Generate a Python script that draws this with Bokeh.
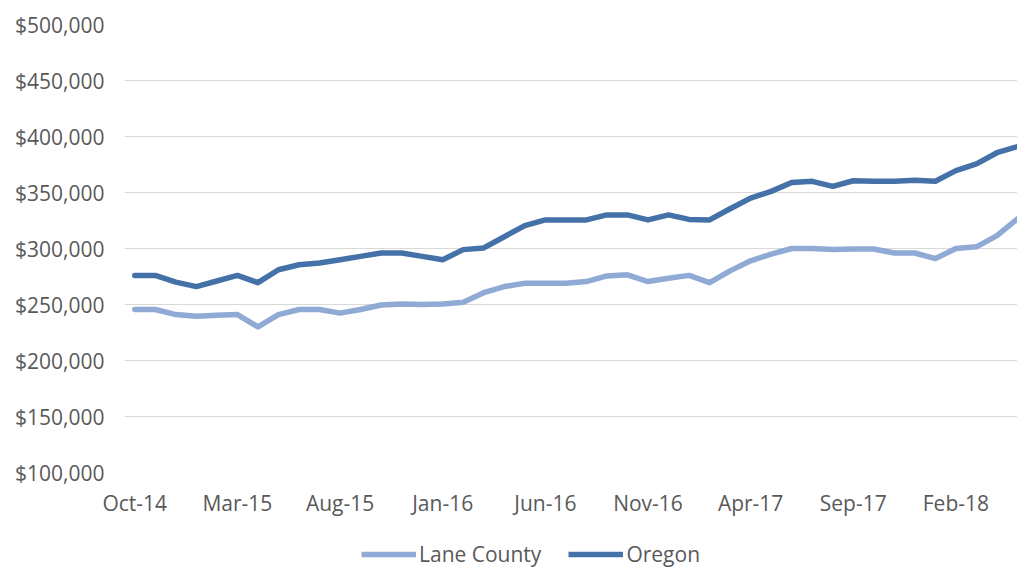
from bokeh.plotting import figure
from bokeh.layouts import column
from bokeh.models import (Range1d, FixedTicker, NumeralTickFormatter, Legend, LegendItem,
                          ColumnDataSource)
from bokeh.embed import file_html
from bokeh.resources import INLINE

months = ["Oct-14", "Nov-14", "Dec-14",
          "Jan-15", "Feb-15", "Mar-15", "Apr-15", "May-15", "Jun-15", "Jul-15", "Aug-15", "Sep-15", "Oct-15", "Nov-15", "Dec-15",
          "Jan-16", "Feb-16", "Mar-16", "Apr-16", "May-16", "Jun-16", "Jul-16", "Aug-16", "Sep-16", "Oct-16", "Nov-16", "Dec-16",
          "Jan-17", "Feb-17", "Mar-17", "Apr-17", "May-17", "Jun-17", "Jul-17", "Aug-17", "Sep-17", "Oct-17", "Nov-17", "Dec-17",
          "Jan-18", "Feb-18", "Mar-18", "Apr-18", "May-18"]

lane_county = [245500, 245500, 241000, 239500, 240500, 241000, 230000, 241000, 245500, 245500,
               242300, 245500, 249500, 250500, 250000, 250500, 252000, 260500, 266000, 269000,
               269000, 269000, 270500, 275500, 276500, 270500, 273500, 276000, 269500, 280000,
               289000, 295000, 300000, 300000, 299000, 299500, 299500, 296000, 296000, 291000,
               300000, 301500, 311500, 326500]

oregon = [276000, 276000, 270000, 266000, 271000, 276000, 269500, 281000, 285500, 287000,
          290000, 293000, 296000, 296000, 293000, 290000, 299000, 300500, 310500, 320500,
          325500, 325500, 325500, 330000, 330000, 325500, 330000, 326000, 325500, 335500,
          345000, 351000, 359000, 360000, 355500, 360500, 360000, 360000, 361000, 360000,
          369500, 375500, 385500, 391000]

series_names = ["Lane County", "Oregon"]
series_colors = ["#8FAAD4", "#4472A8"]

y_ticks = [100000, 150000, 200000, 250000, 300000, 350000, 400000, 450000, 500000]
x_tick_idx = [0, 5, 10, 15, 20, 25, 30, 35, 40]

FONT = "Open Sans"
TXT = "#595959"
LW = 5.5

src = ColumnDataSource(dict(x=list(range(len(months))), lane=lane_county, oregon=oregon))

# ---- main chart ----
p = figure(width=1017, height=528, output_backend="svg", toolbar_location=None,
           x_range=Range1d(-0.5, 43.0), y_range=Range1d(100000, 500000),
           min_border_left=124, min_border_right=0, min_border_top=24, min_border_bottom=56)
p.outline_line_color = None
p.background_fill_color = "white"
p.border_fill_color = "white"

p.line("x", "lane", source=src, line_color=series_colors[0], line_width=LW,
       line_cap="round", line_join="round")
p.line("x", "oregon", source=src, line_color=series_colors[1], line_width=LW,
       line_cap="round", line_join="round")

p.xgrid.visible = False
p.ygrid.grid_line_color = "#D9D9D9"
p.ygrid.grid_line_width = 1

p.yaxis.ticker = FixedTicker(ticks=y_ticks)
p.yaxis.formatter = NumeralTickFormatter(format="$0,0")
p.xaxis.ticker = FixedTicker(ticks=x_tick_idx)
p.xaxis.major_label_overrides = {i: months[i] for i in x_tick_idx}

for ax in (p.xaxis[0], p.yaxis[0]):
    ax.axis_line_color = None
    ax.major_tick_line_color = None
    ax.minor_tick_line_color = None
    ax.major_label_text_font = FONT
    ax.major_label_text_font_size = "21px"
    ax.major_label_text_color = TXT
p.yaxis.major_label_standoff = 14
p.xaxis.major_label_standoff = 10

# ---- legend strip (series drawn off-view, only used as legend glyph sources) ----
q = figure(width=1017, height=40, output_backend="svg", toolbar_location=None,
           x_axis_type=None, y_axis_type=None,
           x_range=Range1d(-0.5, 43.0), y_range=Range1d(0, 1),
           min_border_left=0, min_border_right=0, min_border_top=0, min_border_bottom=0)
q.outline_line_color = None
q.xgrid.visible = False
q.ygrid.visible = False
q_lane = q.line("x", "lane", source=src, line_color=series_colors[0], line_width=LW)
q_or = q.line("x", "oregon", source=src, line_color=series_colors[1], line_width=LW)

legend = Legend(items=[LegendItem(label=series_names[0], renderers=[q_lane]),
                       LegendItem(label=series_names[1], renderers=[q_or])],
                orientation="horizontal", location=(237, 0),
                label_text_font=FONT, label_text_font_size="21px", label_text_color=TXT,
                glyph_width=55, glyph_height=20, label_standoff=3, spacing=27,
                padding=0, margin=0, border_line_color=None, background_fill_alpha=0)
q.add_layout(legend, "center")

layout = column(p, q, spacing=0)
open("out.html", "w").write(file_html(layout, INLINE))
